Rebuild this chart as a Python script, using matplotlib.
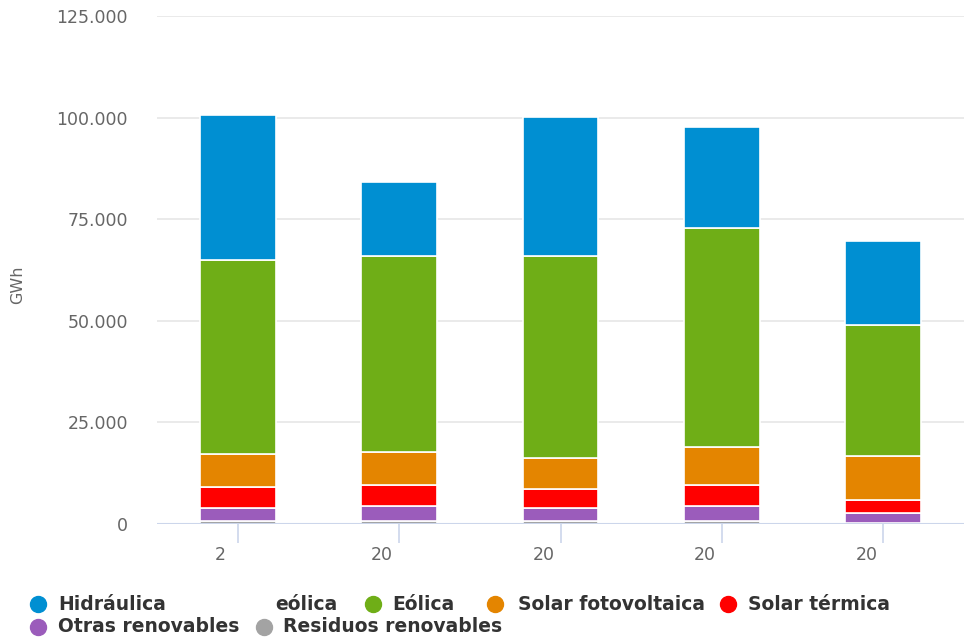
import numpy as np
import matplotlib
matplotlib.use("Agg")
import matplotlib.pyplot as plt
from matplotlib.lines import Line2D
from matplotlib.transforms import offset_copy

# data (GWh)
categories = ["2", "20", "20", "20", "20"]
residuos = [690, 620, 750, 620, 200]
otras = [3250, 3690, 3310, 3740, 2510]
solar_termica = [5170, 5290, 4560, 5250, 3270]
solar_fv = [8010, 8130, 7640, 9230, 10690]
eolica = [47900, 48280, 49750, 54060, 32340]
hidraulica = [35720, 18220, 34240, 24880, 20690]

series = [
    ("Residuos renovables", residuos, "#a3a3a3"),
    ("Otras renovables", otras, "#9b5cbb"),
    ("Solar térmica", solar_termica, "#ff0000"),
    ("Solar fotovoltaica", solar_fv, "#e48500"),
    ("Eólica", eolica, "#6fae17"),
    ("Hidráulica", hidraulica, "#008fd2"),
]
yticks = [0, 25000, 50000, 75000, 100000, 125000]
ytick_labels = ["0", "25.000", "50.000", "75.000", "100.000", "125.000"]

W, H = 964, 638
fig = plt.figure(figsize=(W / 100, H / 100), dpi=100)
ax = fig.add_axes([157 / W, (H - 524) / H, (964 - 157) / W, (524 - 16) / H])

x = np.arange(len(categories))
bottom = np.zeros(len(categories))
for name, vals, col in series:
    ax.bar(x, vals, 0.47, bottom=bottom, color=col, edgecolor="white",
           linewidth=1.2, zorder=3)
    bottom += np.array(vals)

ax.set_xlim(-0.5, len(categories) - 0.5)
ax.set_ylim(0, 125000)
ax.set_yticks(yticks)
ax.set_yticklabels(ytick_labels, color="#666666", fontsize=12.5)
ax.grid(axis="y", color="#e6e6e6", linewidth=1.2, zorder=0)
for s in ["top", "right", "left", "bottom"]:
    ax.spines[s].set_visible(False)
ax.axhline(0, color="#ccd6eb", linewidth=1.5, zorder=4)
ax.tick_params(axis="y", length=0, pad=21)

ax.set_xticks(x)
ax.set_xticklabels(categories, color="#666666", fontsize=12.5)
ax.tick_params(axis="x", length=14, color="#ccd6eb", width=1.2, pad=2)
for lab in ax.get_xticklabels():
    lab.set_transform(offset_copy(lab.get_transform(), fig=fig, x=-17, y=0, units="dots"))

ax.set_ylabel("GWh", color="#666666", fontsize=11.5)
ax.yaxis.set_label_coords(25 / W, 1 - 285 / H, transform=fig.transFigure)

# legend, drawn by hand to keep its odd layout
legend_items = [
    (38, 604, "Hidráulica", "#008fd2"),
    (None, 604, "eólica", None),
    (373, 604, "Eólica", "#6fae17"),
    (495, 604, "Solar fotovoltaica", "#e48500"),
    (728, 604, "Solar térmica", "#ff0000"),
    (38, 627, "Otras renovables", "#9b5cbb"),
    (264, 627, "Residuos renovables", "#a3a3a3"),
]
text_x = [58, 275, 392, 518, 748, 58, 283]
for (mx, my, label, col), tx in zip(legend_items, text_x):
    if col is not None:
        fig.add_artist(Line2D([mx / W], [1 - my / H], marker="o", markersize=11.5,
                              color=col, linestyle="none",
                              transform=fig.transFigure))
    fig.text(tx / W, 1 - my / H, label, fontsize=13.5, fontweight="bold",
             color="#333333", va="center", ha="left")

fig.savefig("out.png", dpi=100)
